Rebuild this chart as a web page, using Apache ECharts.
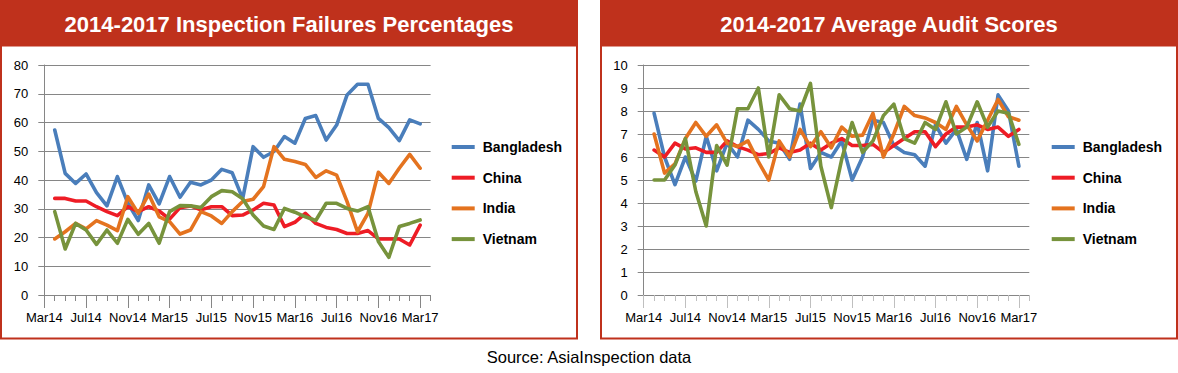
<!DOCTYPE html>
<html>
<head>
<meta charset="utf-8">
<script src="https://cdn.jsdelivr.net/npm/echarts@6/dist/echarts.min.js"></script>
<style>
html,body{margin:0;padding:0;background:#fff;}
#c{width:1178px;height:373px;}
</style>
</head>
<body>
<div id="c"></div>
<script>
// x-axis categories (Mar14 .. Mar17, plus one empty trailing slot)
var months = ['Mar14','Apr14','May14','Jun14','Jul14','Aug14','Sep14','Oct14','Nov14','Dec14',
  'Jan15','Feb15','Mar15','Apr15','May15','Jun15','Jul15','Aug15','Sep15','Oct15','Nov15','Dec15',
  'Jan16','Feb16','Mar16','Apr16','May16','Jun16','Jul16','Aug16','Sep16','Oct16','Nov16','Dec16',
  'Jan17','Feb17','Mar17',''];
var seriesNames = ['Bangladesh','China','India','Vietnam'];

// Inspection failure percentages, Apr14 .. Mar17
var bdFail = [57.4,42.3,38.8,42.1,35.6,31.0,41.2,32.0,25.9,38.3,31.7,41.2,34.0,39.2,38.3,40.0,43.7,42.5,33.5,51.6,47.9,49.9,55.1,52.8,61.4,62.4,53.9,59.1,69.6,73.3,73.3,61.4,58.2,53.7,60.9,59.5];
var cnFail = [33.6,33.6,32.7,32.7,30.7,29.0,27.6,30.7,29.0,30.7,29.2,26.4,30.4,31.0,29.6,30.7,30.7,27.6,27.8,29.6,31.9,31.3,23.8,25.3,28.4,24.9,23.5,22.8,21.4,21.4,22.4,19.5,19.5,19.5,17.4,24.3];
var inFail = [19.5,22.0,24.9,23.0,25.9,24.3,22.4,34.2,28.4,35.1,27.2,25.5,21.2,22.6,29.0,27.5,24.9,29.0,32.5,33.3,37.7,51.6,47.2,46.4,45.4,40.9,43.2,41.7,32.5,22.0,28.4,42.7,38.8,44.1,48.9,44.1];
var vnFail = [29.0,16.0,24.9,22.6,17.6,22.6,18.0,26.3,21.1,24.9,18.0,29.0,31.1,31.0,30.4,34.2,36.3,35.9,33.5,27.8,24.0,22.8,30.1,28.8,27.2,25.9,31.9,31.9,30.1,29.2,30.7,18.6,13.1,23.8,24.9,26.1];

// Average audit scores, Apr14 .. Mar17
var bdScore = [7.9,6.0,4.8,6.0,4.95,6.9,5.4,6.6,6.0,7.6,7.2,6.7,6.6,5.9,8.3,5.5,6.2,6.0,6.7,5.0,6.0,7.6,7.5,6.5,6.2,6.1,5.6,7.4,6.6,7.2,5.9,7.5,5.4,8.7,8.0,5.6];
var cnScore = [6.3,6.0,6.6,6.35,6.4,6.2,6.2,6.7,6.45,6.3,6.1,6.15,6.4,6.2,6.3,6.6,6.3,6.6,6.8,6.5,6.5,6.55,6.2,6.5,6.8,7.1,7.1,6.45,7.0,7.3,7.3,7.4,7.2,7.3,6.9,7.2];
var inScore = [7.0,5.3,5.7,6.8,7.5,6.9,7.4,6.6,6.45,6.7,5.8,5.0,6.7,6.0,7.2,6.45,7.1,6.4,7.3,6.9,6.95,7.9,6.0,7.0,8.2,7.8,7.7,7.5,7.2,8.2,7.4,6.7,7.6,8.5,7.75,7.6];
var vnScore = [5.0,5.0,5.65,6.8,4.5,3.0,6.5,5.65,8.1,8.1,9.0,6.0,8.7,8.1,8.0,9.2,5.6,3.8,5.9,7.5,6.2,6.7,7.8,8.3,6.8,6.6,7.5,7.2,8.4,7.0,7.3,8.4,7.3,8.0,7.9,6.55];

var yTicksFail = [0,80,10];
var yTicksScore = [0,10,1];

var colors = ['#4A7EBB','#EE1C25','#E4731F','#77933C'];
var RED = '#BF311C';
var FONT = '"Liberation Sans", Arial, sans-serif';

function pad(arr){ return [null].concat(arr); }

function xAxes(gridIndex, tickColor){
  return [
    { type:'category', gridIndex:gridIndex, data:months, boundaryGap:false,
      axisLine:{show:true, lineStyle:{color:'#868686', width:1}},
      axisTick:{show:true, interval:0, length:6, lineStyle:{color:tickColor}},
      axisLabel:{show:false}, splitLine:{show:false} },
    { type:'category', gridIndex:gridIndex, data:months, boundaryGap:false, position:'bottom',
      axisLine:{show:false},
      axisTick:{show:true, interval:3, length:13, lineStyle:{color:tickColor}},
      axisLabel:{show:true, interval:3, margin:16, color:'#000', fontSize:13, fontFamily:FONT},
      splitLine:{show:false} }
  ];
}
function yAxis(gridIndex, t){
  return { type:'value', gridIndex:gridIndex, min:t[0], max:t[1], interval:t[2],
    axisLine:{show:true, lineStyle:{color:'#868686'}},
    axisTick:{show:true, length:6, lineStyle:{color:'#868686'}},
    axisLabel:{margin:16, color:'#000', fontSize:13, fontFamily:FONT},
    splitLine:{show:true, lineStyle:{color:'#868686', width:1}} };
}
function lines(xIdx, yIdx, datas){
  return datas.map(function(d,i){
    return { name:seriesNames[i], type:'line', xAxisIndex:xIdx, yAxisIndex:yIdx,
      data:pad(d), showSymbol:false, symbol:'none', smooth:false, connectNulls:false,
      color:colors[i],
      lineStyle:{width:3.6, color:colors[i], cap:'round', join:'round'},
      emphasis:{disabled:true}, animation:false };
  });
}
function legend(left){
  return { orient:'vertical', left:left, top:139, padding:0, itemWidth:23, itemHeight:4, itemGap:14.7,
    icon:'rect', data:seriesNames, selectedMode:false,
    textStyle:{fontSize:14, fontWeight:'bold', color:'#000', fontFamily:FONT, lineHeight:16, padding:[0,0,0,3]} };
}

var chart = echarts.init(document.getElementById('c'), null, {renderer:'svg', width:1178, height:373});
var option = {
  animation:false,
  color:colors,
  grid:[
    {left:44.3, right:1178-430.6, top:65, bottom:78, containLabel:false},
    {left:643.7, right:1178-1029.3, top:65, bottom:78, containLabel:false}
  ],
  xAxis: xAxes(0,'#868686').concat(xAxes(1,'#BFBFBF')),
  yAxis: [yAxis(0,yTicksFail), yAxis(1,yTicksScore)],
  legend:[legend(451.7), legend(1051.7)],
  series: lines(0,0,[bdFail,cnFail,inFail,vnFail]).concat(lines(2,1,[bdScore,cnScore,inScore,vnScore])),
  graphic:[
    {type:'rect', shape:{x:1, y:1, width:576, height:337.5}, style:{fill:'none', stroke:RED, lineWidth:2}, silent:true, z:-1},
    {type:'rect', shape:{x:0, y:0, width:578, height:46.5}, style:{fill:RED}, silent:true, z:-1},
    {type:'rect', shape:{x:601, y:1, width:576, height:337.5}, style:{fill:'none', stroke:RED, lineWidth:2}, silent:true, z:-1},
    {type:'rect', shape:{x:600, y:0, width:578, height:46.5}, style:{fill:RED}, silent:true, z:-1},
    {type:'text', x:289, y:24, style:{text:'2014-2017 Inspection Failures Percentages', fill:'#fff',
      font:'bold 22px ' + FONT, align:'center', verticalAlign:'middle'}, silent:true},
    {type:'text', x:889, y:24, style:{text:'2014-2017 Average Audit Scores', fill:'#fff',
      font:'bold 22px ' + FONT, align:'center', verticalAlign:'middle'}, silent:true},
    {type:'text', x:589, y:357, style:{text:'Source: AsiaInspection data', fill:'#000',
      font:'16.5px ' + FONT, align:'center', verticalAlign:'middle'}, silent:true}
  ]
};
chart.setOption(option);
</script>
</body>
</html>
